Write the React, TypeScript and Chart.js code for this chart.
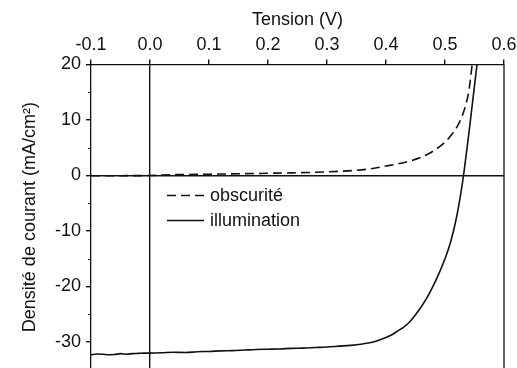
import React, { useEffect, useRef } from "react";
import { Chart, registerables } from "chart.js";

Chart.register(...registerables);

// ---- data ----
const xTickValues = [-0.1, 0.0, 0.1, 0.2, 0.3, 0.4, 0.5, 0.6];
const yTickValues = [-30, -20, -10, 0, 10, 20];
const yMinorTickValues = [15, 5, -5, -15, -25, -35];

const darkLabel = "obscurité";
const darkV = [-0.10, -0.06, -0.02, 0.00, 0.04, 0.08, 0.12, 0.16, 0.20, 0.24, 0.28, 0.32, 0.35, 0.38, 0.40, 0.42, 0.44, 0.46, 0.48, 0.50, 0.51, 0.52, 0.53, 0.54, 0.546, 0.549];
const darkJ = [-0.05, -0.04, -0.02, 0.0, 0.15, 0.2, 0.27, 0.33, 0.4, 0.48, 0.58, 0.75, 0.95, 1.3, 1.7, 2.1, 2.6, 3.3, 4.4, 6.0, 7.2, 8.7, 11.0, 15.0, 20.0, 23.0];

const lightLabel = "illumination";
const lightV = [-0.10, -0.09, -0.08, -0.07, -0.06, -0.05, -0.04, -0.03, -0.02, -0.01, 0.00, 0.02, 0.04, 0.06, 0.08, 0.10, 0.12, 0.14, 0.16, 0.18, 0.20, 0.22, 0.24, 0.26, 0.28, 0.30, 0.32, 0.34, 0.36, 0.38, 0.40, 0.41, 0.42, 0.43, 0.44, 0.45, 0.46, 0.47, 0.48, 0.49, 0.50, 0.51, 0.52, 0.53, 0.54, 0.55, 0.556];
const lightJ = [-32.3, -32.15, -32.2, -32.3, -32.25, -32.1, -32.2, -32.1, -32.05, -32.0, -32.0, -31.95, -31.85, -31.9, -31.75, -31.7, -31.6, -31.55, -31.45, -31.35, -31.3, -31.25, -31.15, -31.1, -31.0, -30.9, -30.75, -30.6, -30.35, -29.95, -29.2, -28.7, -28.0, -27.3, -26.4, -25.1, -23.6, -21.9, -19.9, -17.6, -15.0, -11.8, -7.3, -1.0, 7.2, 16.2, 21.6];

const xTitle = "Tension (V)";
const yTitle = "Densité de courant (mA/cm²)";

const FONT = "'Liberation Sans', Arial, sans-serif";
const FS = 18;
const INK = "#111";

const frameAndLegend = {
  id: "frameAndLegend",
  afterDatasetsDraw(chart: any) {
    const { ctx, chartArea } = chart;
    const ys = chart.scales.y;
    ctx.save();
    ctx.strokeStyle = INK;
    ctx.lineWidth = 1.3;
    // right and bottom frame
    ctx.beginPath();
    ctx.moveTo(chartArea.right, chartArea.top);
    ctx.lineTo(chartArea.right, chartArea.bottom);
    ctx.lineTo(chartArea.left, chartArea.bottom);
    ctx.stroke();
    // minor ticks on y axis
    ctx.lineWidth = 1;
    for (const v of yMinorTickValues) {
      const py = Math.round(ys.getPixelForValue(v)) + 0.5;
      ctx.beginPath();
      ctx.moveTo(chartArea.left - 3, py);
      ctx.lineTo(chartArea.left, py);
      ctx.stroke();
    }
    // legend
    const lx = chartArea.left + 76;
    const ly = chartArea.top + 131;
    const rowH = 25;
    chart.data.datasets.forEach((ds: any, i: number) => {
      const y = ly + i * rowH;
      ctx.strokeStyle = ds.borderColor;
      ctx.lineWidth = ds.borderWidth;
      ctx.setLineDash(ds.borderDash || []);
      ctx.beginPath();
      ctx.moveTo(lx, y);
      ctx.lineTo(lx + 37, y);
      ctx.stroke();
      ctx.setLineDash([]);
      ctx.fillStyle = INK;
      ctx.font = `${FS}px ${FONT}`;
      ctx.textBaseline = "middle";
      ctx.textAlign = "left";
      ctx.fillText(ds.label, lx + 43, y + 1);
    });
    ctx.restore();
  },
};

export default function App() {
  const ref = useRef<HTMLCanvasElement | null>(null);

  useEffect(() => {
    if (!ref.current) return;
    const chart = new Chart(ref.current, {
      type: "line",
      data: {
        datasets: [
          {
            label: darkLabel,
            data: darkV.map((v, i) => ({ x: v, y: darkJ[i] })),
            borderColor: INK,
            borderWidth: 1.6,
            borderDash: [9, 5],
            pointRadius: 0,
            cubicInterpolationMode: "monotone",
            fill: false,
          },
          {
            label: lightLabel,
            data: lightV.map((v, i) => ({ x: v, y: lightJ[i] })),
            borderColor: INK,
            borderWidth: 1.6,
            pointRadius: 0,
            cubicInterpolationMode: "monotone",
            fill: false,
          },
        ],
      },
      options: {
        responsive: false,
        animation: false,
        devicePixelRatio: 1,
        layout: { padding: { left: 0, top: 0, right: 13, bottom: 2.25 } },
        plugins: { legend: { display: false }, tooltip: { enabled: false } },
        scales: {
          x: {
            type: "linear",
            position: "top",
            min: -0.1,
            max: 0.6,
            afterBuildTicks: (s: any) => {
              s.ticks = xTickValues.map((v) => ({ value: v }));
            },
            afterFit: (s: any) => {
              s.height = 64.5;
              s.paddingLeft = 0;
              s.paddingRight = 0;
              s.paddingTop = 0;
              s.paddingBottom = 0;
            },
            ticks: {
              color: INK,
              font: { family: FONT, size: FS },
              padding: 4,
              maxRotation: 0,
              callback: (v: any) => Number(v).toFixed(1),
            },
            grid: {
              drawOnChartArea: true,
              color: (c: any) => (c.tick && Math.abs(c.tick.value) < 1e-9 ? INK : "rgba(0,0,0,0)"),
              tickColor: INK,
              tickLength: 5,
              lineWidth: 1.4,
            },
            border: { display: true, color: INK, width: 1.3 },
            title: {
              display: true,
              text: xTitle,
              color: INK,
              font: { family: FONT, size: FS },
              padding: { top: 9.5, bottom: 0 },
            },
          },
          y: {
            type: "linear",
            position: "left",
            min: -35,
            max: 20,
            afterBuildTicks: (s: any) => {
              s.ticks = yTickValues.map((v) => ({ value: v }));
            },
            afterFit: (s: any) => {
              s.width = 91;
              s.paddingLeft = 0;
              s.paddingRight = 0;
              s.paddingTop = 0;
              s.paddingBottom = 0;
            },
            ticks: {
              color: INK,
              font: { family: FONT, size: FS },
              padding: 5,
              callback: (v: any) => String(v),
            },
            grid: {
              drawOnChartArea: true,
              color: (c: any) => (c.tick && c.tick.value === 0 ? INK : "rgba(0,0,0,0)"),
              tickColor: INK,
              tickLength: 5,
              lineWidth: 1.4,
            },
            border: { display: true, color: INK, width: 1.3 },
            title: {
              display: true,
              text: yTitle,
              color: INK,
              font: { family: FONT, size: FS },
              padding: { top: 19, bottom: 0 },
            },
          },
        },
      },
      plugins: [frameAndLegend],
    } as any);
    return () => chart.destroy();
  }, []);

  return (
    <div style={{ position: "fixed", left: 0, top: 0, width: 517, height: 372, background: "#fff" }}>
      <canvas ref={ref} width={517} height={372} style={{ display: "block", width: 517, height: 372 }} />
    </div>
  );
}
